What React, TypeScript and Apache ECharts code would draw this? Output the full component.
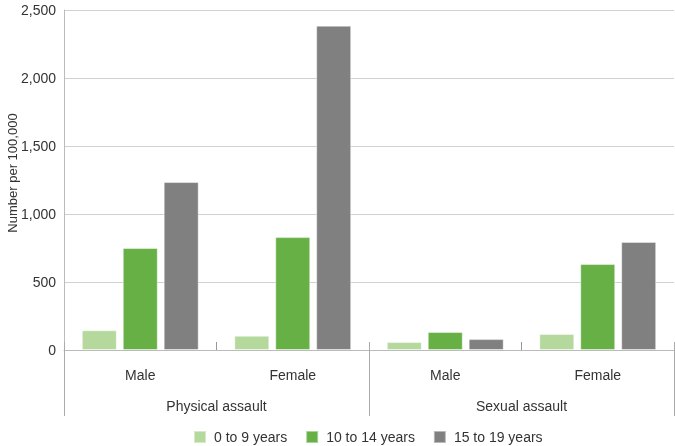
import React, { useEffect, useRef } from "react";
import * as echarts from "echarts";

const subCategories = ["Male", "Female", "Male", "Female"];
const groups = ["Physical assault", "Sexual assault"];
const seriesNames = ["0 to 9 years", "10 to 14 years", "15 to 19 years"];
const age0to9 = [145, 105, 58, 118];
const age10to14 = [750, 830, 132, 632];
const age15to19 = [1235, 2385, 80, 795];
const colors = ["#b5d99c", "#66b045", "#808080"];
const yTicks = { min: 0, max: 2500, interval: 500 };

export default function App() {
  const ref = useRef<HTMLDivElement>(null);
  useEffect(() => {
    if (!ref.current) return;
    const chart = echarts.init(ref.current, null, { renderer: "svg" });
    const font = "'Liberation Sans', Arial, sans-serif";
    const dataSets = [age0to9, age10to14, age15to19];
    chart.setOption({
      animation: false,
      textStyle: { fontFamily: font },
      grid: { left: 64, right: 1, top: 10, bottom: 96, outerBoundsMode: "none", containLabel: false },
      legend: {
        top: 425,
        left: 188,
        itemWidth: 12,
        itemHeight: 12,
        itemGap: 18,
        icon: "rect",
        textStyle: { fontSize: 14, color: "#333", fontFamily: font, padding: [0, 0, 0, 3] },
        data: seriesNames,
      },
      xAxis: [
        {
          type: "category",
          data: subCategories,
          position: "bottom",
          axisLine: { lineStyle: { color: "#bbbbbb" } },
          axisTick: { show: true, inside: true, length: 8, lineStyle: { color: "#999" } },
          axisLabel: { fontSize: 14, color: "#333", margin: 18, fontFamily: font },
        },
        {
          type: "category",
          data: groups,
          position: "bottom",
          offset: -8,
          axisLine: { show: false },
          axisTick: { show: true, length: 74, interval: 0, lineStyle: { color: "#aaaaaa" } },
          axisLabel: { fontSize: 14, color: "#333", margin: 57, fontFamily: font },
        },
      ],
      yAxis: {
        type: "value",
        min: yTicks.min,
        max: yTicks.max,
        interval: yTicks.interval,
        name: "Number per 100,000",
        nameLocation: "middle",
        nameGap: 45,
        nameMoveOverlap: false,
        nameTextStyle: { fontSize: 13, color: "#333", fontFamily: font, padding: [0, 0, 0, 14] },
        axisLine: { show: true, lineStyle: { color: "#bbbbbb" } },
        axisTick: { show: false },
        splitLine: { lineStyle: { color: "#d0d0d0" } },
        axisLabel: {
          fontSize: 14,
          color: "#333",
          margin: 8,
          fontFamily: font,
          formatter: (v: number) => v.toLocaleString("en-US"),
        },
      },
      series: seriesNames.map((name, i) => ({
        name,
        type: "bar",
        xAxisIndex: 0,
        data: dataSets[i],
        barWidth: 35,
        barGap: "17%",
        itemStyle: {
          color: colors[i],
          borderColor: "rgba(255,255,255,0.45)",
          borderWidth: 1,
        },
      })),
    });
    return () => chart.dispose();
  }, []);
  return (
    <div
      ref={ref}
      style={{ position: "fixed", left: 0, top: 0, width: 675, height: 446 }}
    />
  );
}
